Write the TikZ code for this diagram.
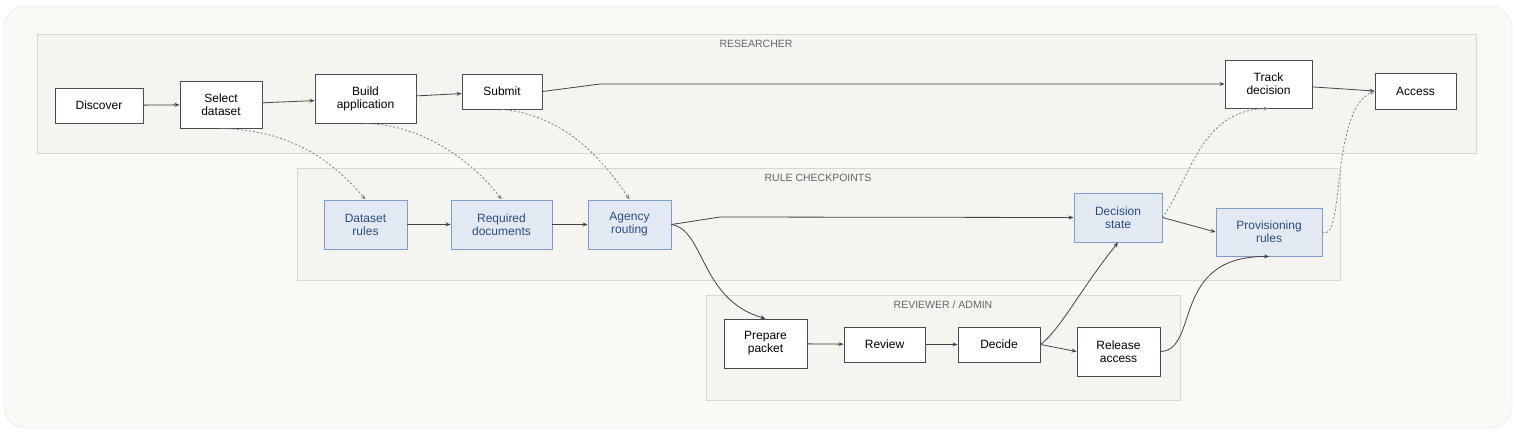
\documentclass[tikz,border=0pt]{standalone}
\usepackage{fontspec}
\setmainfont{Liberation Sans}
\usepackage{xcolor}
\usetikzlibrary{positioning, arrows.meta, calc}
\definecolor{pagebg}{HTML}{FAF9F6}
\definecolor{lanebg}{HTML}{F5F4F0}
\definecolor{laneline}{HTML}{D8D7D2}
\definecolor{rulefill}{HTML}{E3E9F3}
\definecolor{ruleline}{HTML}{7D9BCB}
\definecolor{ruletext}{HTML}{2B4C80}
\definecolor{edgecol}{HTML}{444444}
\tikzset{
    box/.style={draw=black!70, fill=white, line width=0.9pt, align=center,
        font=\fontsize{12}{13}\selectfont, inner sep=0pt},
    rulebox/.style={box, draw=ruleline, fill=rulefill, text=ruletext},
    lane/.style={draw=laneline, fill=lanebg, line width=0.8pt},
    lanelabel/.style={text=black!60, font=\fontsize{10.5}{12}\selectfont},
    flow/.style={draw=edgecol, line width=0.8pt, -{Stealth[length=5pt,width=4pt]}},
    link/.style={draw=black!50, line width=0.8pt, dash pattern=on 2pt off 2pt,
        -{Stealth[length=5pt,width=4pt]}}
}
\begin{document}
\begin{tikzpicture}[x=1pt, y=-1pt]
    % page
    \path[fill=white] (0,0) rectangle (1518,434);
    \useasboundingbox (0,0) rectangle (1518,434);
    \draw[fill=pagebg, draw=laneline!70, rounded corners=22pt] (4,6) rectangle (1512,428);

    % lanes
    \draw[lane] (37,34) rectangle (1476,153);
    \node[lanelabel] (lresearch) at (756,44) {RESEARCHER};
    \draw[lane] (297,168) rectangle (1340,280);
    \node[lanelabel] (lrules) at (818,178) {RULE CHECKPOINTS};
    \draw[lane] (706,295) rectangle (1180,400);
    \node[lanelabel] (lreview) at (943,305) {REVIEWER / ADMIN};

    % researcher
    \node[box, minimum width=88, minimum height=35] (discover) at (99,105.5) {Discover};
    \node[box, minimum width=82, minimum height=47] (select) at (221,104.5) {Select\\dataset};
    \node[box, minimum width=101, minimum height=49] (build) at (365.5,98.5) {Build\\application};
    \node[box, minimum width=80, minimum height=35] (submit) at (502,91.5) {Submit};
    \node[box, minimum width=87, minimum height=48] (track) at (1268.5,84) {Track\\decision};
    \node[box, minimum width=81, minimum height=36] (access) at (1415.5,91) {Access};

    % rule checkpoints
    \node[rulebox, minimum width=83, minimum height=49] (dsrules) at (365.5,224.5) {Dataset\\rules};
    \node[rulebox, minimum width=101, minimum height=49] (reqdocs) at (501.5,224.5) {Required\\documents};
    \node[rulebox, minimum width=83, minimum height=49] (routing) at (629.5,224.5) {Agency\\routing};
    \node[rulebox, minimum width=88, minimum height=49] (dstate) at (1118,217.5) {Decision\\state};
    \node[rulebox, minimum width=106, minimum height=48] (provrules) at (1269,232) {Provisioning\\rules};

    % reviewer / admin
    \node[box, minimum width=83, minimum height=49] (prepare) at (765.5,343.5) {Prepare\\packet};
    \node[box, minimum width=81, minimum height=35] (review) at (884.5,344.5) {Review};
    \node[box, minimum width=82, minimum height=35] (decide) at (999,344.5) {Decide};
    \node[box, minimum width=83, minimum height=49] (release) at (1118.5,351.5) {Release\\access};

    \coordinate (bendsubmit) at (600,84);
    \coordinate (bendrouting) at (720,217);

    % flows
    \draw[flow] (discover) -- (select);
    \draw[flow] (select) -- (build);
    \draw[flow] (build) -- (submit);
    \draw[flow] (submit.east) -- (bendsubmit) -- (track.west);
    \draw[flow] (track) -- (access.west);
    \draw[flow] (dsrules) -- (reqdocs);
    \draw[flow] (reqdocs) -- (routing);
    \draw[flow] (routing.east) -- (bendrouting) -- (dstate.west);
    \draw[flow] (dstate.east) -- (provrules.west);
    \draw[flow] (routing.east) .. controls (705,230) and (700,300) .. (prepare.north);
    \draw[flow] (prepare) -- (review);
    \draw[flow] (review) -- (decide);
    \draw[flow] (decide.east) -- (release.west);
    \draw[flow] (decide.east) .. controls (1060,330) and (1080,290) .. (dstate.south);
    \draw[flow] (release.east) .. controls (1200,350) and (1170,256) .. (provrules.south);

    % rule links
    \draw[link] (select.south) .. controls (300,130) and (340,170) .. (dsrules.north);
    \draw[link] (build.south) .. controls (430,125) and (480,170) .. (reqdocs.north);
    \draw[link] (submit.south) .. controls (570,115) and (610,170) .. (routing.north);
    \draw[link] (dstate.east) .. controls (1190,180) and (1200,110) .. (track.south);
    \draw[link] (provrules.east) .. controls (1345,245) and (1330,110) .. (access.west);
\end{tikzpicture}
\end{document}
